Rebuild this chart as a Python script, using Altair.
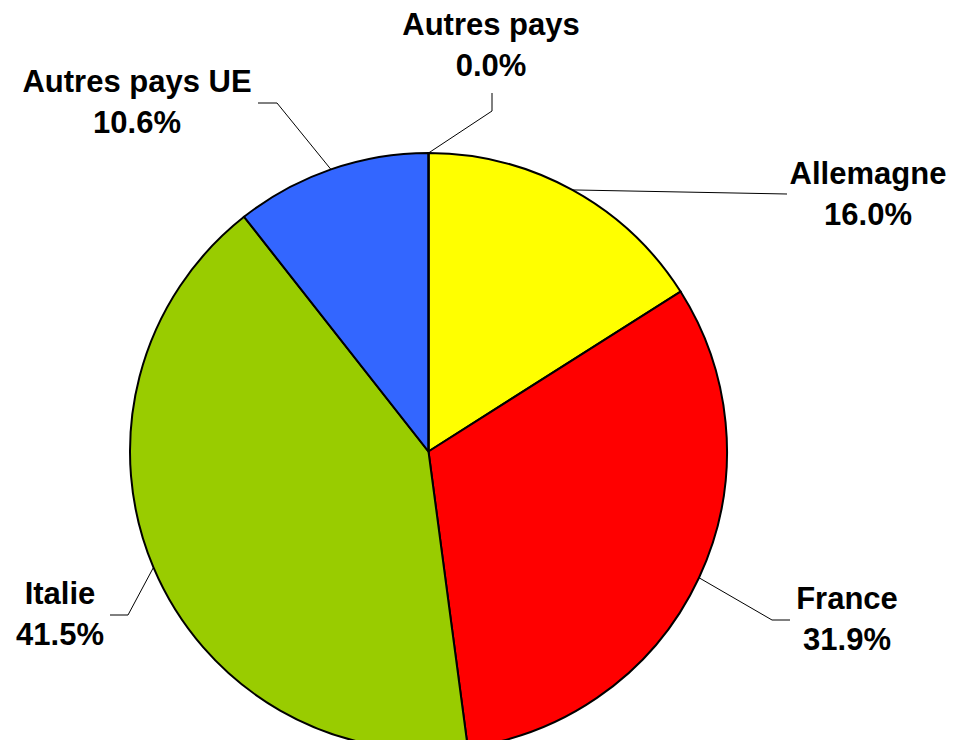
import math
import altair as alt
import pandas as pd

# ---- data ----
categories = ["Allemagne", "France", "Italie", "Autres pays UE", "Autres pays"]
shares = [16.0, 31.9, 41.5, 10.6, 0.0]
pct_text = ["16.0%", "31.9%", "41.5%", "10.6%", "0.0%"]
colors = ["#FFFF00", "#FF0000", "#99CC00", "#3366FF", "#FF9900"]

# ---- layout (page pixel coordinates, first text line centre) ----
CX, CY, R = 428.5, 451.5, 298.5
W, H = 943, 732
label_xy = {
    "Allemagne": (868, 175),
    "France": (847, 600),
    "Italie": (60, 595),
    "Autres pays UE": (137, 83),
    "Autres pays": (491, 26),
}
leader_bends = {
    "Allemagne": [(787, 194)],
    "France": [(772, 620), (790, 620)],
    "Italie": [(128, 615), (110, 615)],
    "Autres pays UE": [(277, 103), (258, 103)],
    "Autres pays": [(492, 111), (492, 93)],
}

total = sum(shares)
df = pd.DataFrame({"category": categories, "share": shares, "idx": range(len(categories))})

# leader lines: start at slice mid-angle on the rim
rows = []
cum = 0.0
for cat, s in zip(categories, shares):
    mid = (cum + s / 2) / total * 2 * math.pi
    cum += s
    sx = CX + R * math.sin(mid)
    sy = CY - R * math.cos(mid)
    pts = [(sx, sy)] + leader_bends[cat]
    for k, (px, py) in enumerate(pts):
        rows.append({"category": cat, "seq": k, "px": px, "py": py})
lines_df = pd.DataFrame(rows)

labels_df = pd.DataFrame({
    "category": categories,
    "label": [f"{c}\n{p}" for c, p in zip(categories, pct_text)],
    "lx": [label_xy[c][0] for c in categories],
    "ly": [label_xy[c][1] for c in categories],
})

xs = alt.Scale(domain=[8, 8 + W], range=[0, W], nice=False, zero=False)
ys = alt.Scale(domain=[8, 8 + H], range=[0, H], nice=False, zero=False)

pie = alt.Chart(df).mark_arc(outerRadius=R, stroke="black", strokeWidth=2).encode(
    theta=alt.Theta("share:Q", stack=True),
    color=alt.Color("category:N", scale=alt.Scale(domain=categories, range=colors), legend=None),
    order=alt.Order("idx:Q"),
    x=alt.value(CX - 8),
    y=alt.value(CY - 8),
)

leaders = alt.Chart(lines_df).mark_line(color="black", strokeWidth=1).encode(
    x=alt.X("px:Q", scale=xs, axis=None),
    y=alt.Y("py:Q", scale=ys, axis=None),
    detail="category:N",
    order="seq:Q",
)

texts = alt.Chart(labels_df).mark_text(
    font="Liberation Sans", fontWeight="bold", fontSize=31, lineHeight=41,
    lineBreak="\n", align="center", baseline="middle", color="black",
).encode(
    x=alt.X("lx:Q", scale=xs, axis=None),
    y=alt.Y("ly:Q", scale=ys, axis=None),
    text="label:N",
)

chart = alt.layer(pie, leaders, texts).properties(
    width=W, height=H, padding=0, autosize="none", background="white"
).configure_view(stroke=None)

chart.save("out.html", embed_options={"renderer": "svg", "actions": False})
